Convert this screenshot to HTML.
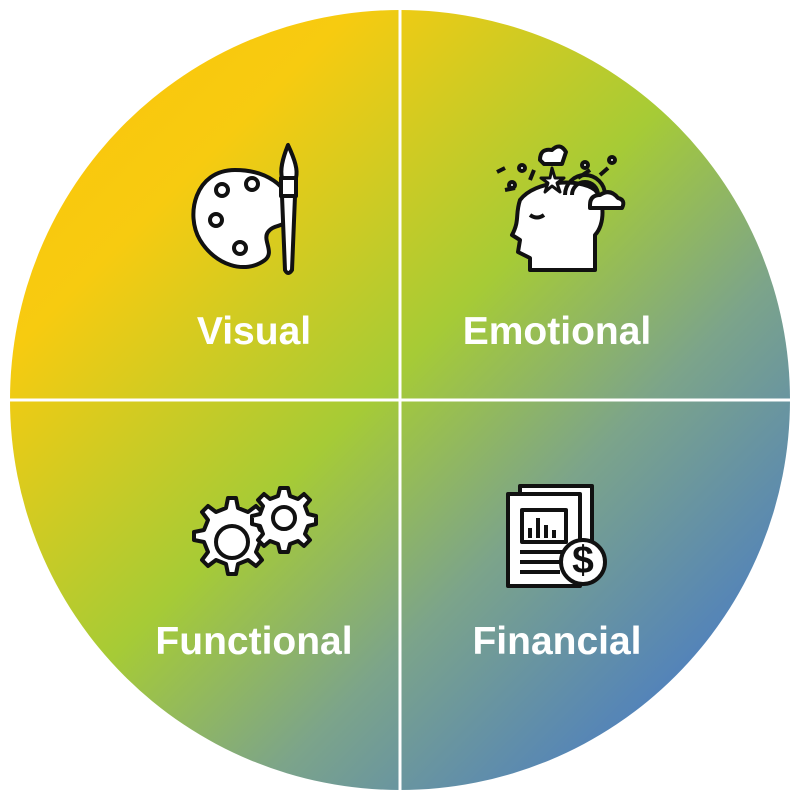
<!DOCTYPE html>
<html><head><meta charset="utf-8"><style>
html,body{margin:0;padding:0;background:#fff;}
svg{display:block;}
text{font-family:"Liberation Sans",sans-serif;font-weight:bold;fill:#fff;font-size:39px;}
</style></head><body>
<svg width="800" height="800" viewBox="0 0 800 800">
<defs>
<linearGradient id="g" x1="10" y1="10" x2="790" y2="790" gradientUnits="userSpaceOnUse">
<stop offset="0" stop-color="#fdc30a"/>
<stop offset="0.22" stop-color="#f7cb10"/>
<stop offset="0.48" stop-color="#a6cb36"/>
<stop offset="0.66" stop-color="#7ca48a"/>
<stop offset="0.9" stop-color="#4a7cc4"/>
<stop offset="1" stop-color="#3f72d0"/>
</linearGradient>
</defs>
<circle cx="400" cy="400" r="390" fill="url(#g)"/>
<rect x="398.5" y="0" width="3" height="800" fill="#fff"/>
<rect x="0" y="398.5" width="800" height="3" fill="#fff"/>

<g stroke="#111" stroke-width="4" fill="#fff" stroke-linejoin="round">
<path d="M235 170 C195 170 185 215 200 240 C215 265 245 275 265 260 C275 252 262 240 268 232 C275 222 290 230 290 210 C290 185 265 170 235 170Z"/>
<circle cx="222" cy="190" r="6"/><circle cx="252" cy="184" r="6"/><circle cx="216" cy="220" r="6"/><circle cx="240" cy="248" r="6"/>
<path d="M288 145 C282 160 280 170 282 178 L296 178 C298 170 295 160 288 145Z"/>
<rect x="281" y="178" width="15" height="18"/>
<path d="M282 196 L295 196 L292 270 Q288 276 285 270Z"/>
<path d="M520 200 C515 215 520 220 512 235 L520 240 L518 252 L530 258 L530 270 L595 270 L595 235 C605 225 605 200 595 190 C580 178 535 180 520 200Z"/>
<path d="M530 215 Q537 220 544 215" fill="none"/>
<path d="M565 195 A20 20 0 0 1 605 195" fill="none"/><path d="M572 195 A13 13 0 0 1 598 195" fill="none"/>
<path d="M590 205 Q590 195 600 195 Q610 188 618 198 Q626 200 622 208 L590 208Z"/>
<path d="M540 160 Q540 148 552 150 Q560 142 566 152 L562 164 L544 164Z"/>
<path d="M552 168 L555 178 L564 178 L557 183 L560 192 L552 186 L545 192 L548 183 L541 178 L550 178Z" stroke-width="3"/>
<circle cx="512" cy="185" r="3"/><circle cx="522" cy="168" r="3"/><circle cx="585" cy="165" r="3"/><circle cx="612" cy="160" r="3"/>
<path d="M497 172 L505 168 M505 190 L515 188 M530 180 L534 170 M578 178 L590 170 M600 175 L608 168" fill="none"/>
<path d="M228 498 l8 0 2 10 10 4 8-6 6 6-6 8 4 10 10 2 0 8-10 2-4 10 6 8-6 6-8-6-10 4-2 10-8 0-2-10-10-4-8 6-6-6 6-8-4-10-10-2 0-8 10-2 4-10-6-8 6-6 8 6 10-4Z"/>
<circle cx="232" cy="542" r="16"/>
<path d="M280 488 l8 0 2 8 8 3 6-5 6 6-5 6 3 8 8 2 0 8-8 2-3 8 5 6-6 6-6-5-8 3-2 8-8 0-2-8-8-3-6 5-6-6 5-6-3-8-8-2 0-8 8-2 3-8-5-6 6-6 6 5 8-3Z"/>
<circle cx="284" cy="518" r="11"/>
<rect x="520" y="486" width="72" height="92"/>
<rect x="508" y="494" width="72" height="92"/>
<rect x="522" y="510" width="44" height="32"/>
<path d="M530 538 V528 M538 538 V518 M546 538 V525 M554 538 V530" fill="none"/>
<path d="M520 552 H565 M520 562 H560 M520 572 H560" fill="none"/>
<circle cx="583" cy="562" r="22"/>
<text x="583" y="573" font-size="26" text-anchor="middle" style="fill:#111;stroke:none">$</text>
</g>

<text x="254" y="344" text-anchor="middle">Visual</text>
<text x="557" y="344" text-anchor="middle">Emotional</text>
<text x="254" y="654" text-anchor="middle">Functional</text>
<text x="557" y="654" text-anchor="middle">Financial</text>
</svg>
</body></html>
